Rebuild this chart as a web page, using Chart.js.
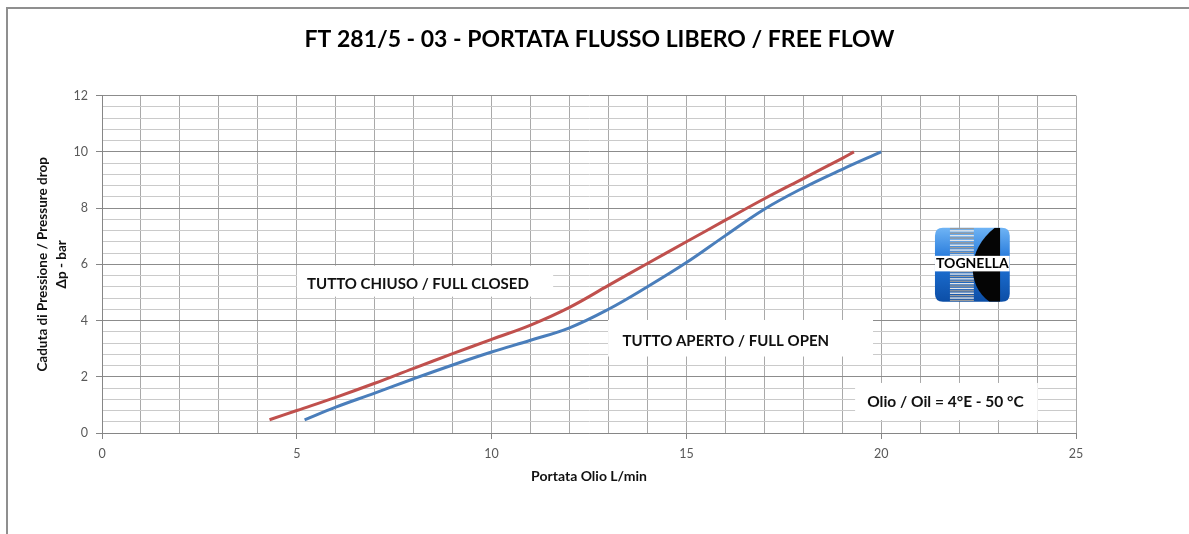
<!DOCTYPE html>
<html>
<head>
<meta charset="utf-8">
<script src="https://cdn.jsdelivr.net/npm/chart.js@4.4.0/dist/chart.umd.min.js"></script>
<style>
  html, body { margin: 0; padding: 0; background: #fff; }
  #wrap { width: 1189px; height: 534px; }
</style>
</head>
<body>
<div id="wrap"><canvas id="flowChart" width="1189" height="534"></canvas></div>
<script>
// portata (L/min) / caduta di pressione (bar)
var closedFlow = [4.3, 5, 6, 7, 8, 9, 10, 11, 12, 13, 14, 15, 16, 17, 18, 19, 19.3];
var closedDrop = [0.47, 0.8, 1.27, 1.77, 2.3, 2.82, 3.33, 3.84, 4.47, 5.25, 6.03, 6.8, 7.57, 8.33, 9.05, 9.77, 10];
var openFlow = [5.2, 6, 7, 8, 9, 10, 11, 12, 13, 14, 15, 16, 17, 18, 19, 20];
var openDrop = [0.47, 0.92, 1.42, 1.93, 2.42, 2.88, 3.3, 3.74, 4.4, 5.2, 6.06, 7.02, 7.96, 8.72, 9.38, 10];
var xTickLabels = [0, 5, 10, 15, 20, 25];
var yTickLabels = [0, 2, 4, 6, 8, 10, 12];

var FONT = "Lato, 'Open Sans', sans-serif";

function pairs(xs, ys) {
  var out = [];
  for (var i = 0; i < xs.length; i++) out.push({ x: xs[i], y: ys[i] });
  return out;
}
function isMajorY(v) { return yTickLabels.indexOf(Math.round(v * 10) / 10) >= 0; }
function isMajorX(v) { return xTickLabels.indexOf(Math.round(v * 10) / 10) >= 0; }

// riquadri di testo sul grafico (in unita' degli assi)
var notes = [
  { text: 'TUTTO CHIUSO / FULL CLOSED', x: 8.11, y: 5.3, box: [5.0, 11.58, 4.85, 5.95], size: 15 },
  { text: 'TUTTO APERTO / FULL OPEN', x: 16.01, y: 3.25, box: [12.99, 19.79, 2.72, 4.02], size: 15 },
  { text: 'Olio / Oil = 4\u00B0E - 50 \u00B0C', x: 21.65, y: 1.09, box: [19.33, 24.02, 0.46, 1.78], size: 15.5 }
];

function roundRect(c, x, y, w, h, r) {
  c.beginPath();
  c.moveTo(x + r, y);
  c.lineTo(x + w - r, y);
  c.quadraticCurveTo(x + w, y, x + w, y + r);
  c.lineTo(x + w, y + h - r);
  c.quadraticCurveTo(x + w, y + h, x + w - r, y + h);
  c.lineTo(x + r, y + h);
  c.quadraticCurveTo(x, y + h, x, y + h - r);
  c.lineTo(x, y + r);
  c.quadraticCurveTo(x, y, x + r, y);
  c.closePath();
}

var framePlugin = {
  id: 'frame',
  beforeDraw: function (chart) {
    var c = chart.ctx;
    c.save();
    c.fillStyle = '#fff';
    c.fillRect(0, 0, chart.width, chart.height);
    c.strokeStyle = '#8f8f8f';
    c.lineWidth = 2;
    c.strokeRect(7, 8, chart.width + 20, chart.height + 20);
    c.restore();
  }
};

var notesPlugin = {
  id: 'notes',
  beforeDatasetsDraw: function (chart) {
    var c = chart.ctx, sx = chart.scales.x, sy = chart.scales.y;
    c.save();
    notes.forEach(function (n) {
      var x0 = sx.getPixelForValue(n.box[0]), x1 = sx.getPixelForValue(n.box[1]);
      var y0 = sy.getPixelForValue(n.box[3]), y1 = sy.getPixelForValue(n.box[2]);
      c.fillStyle = '#fff';
      c.fillRect(x0, y0, x1 - x0, y1 - y0);
      c.fillStyle = '#111';
      c.font = 'bold ' + n.size + 'px ' + FONT;
      c.textAlign = 'center';
      c.textBaseline = 'middle';
      c.fillText(n.text, sx.getPixelForValue(n.x), sy.getPixelForValue(n.y));
    });
    c.restore();
  }
};

var logoPlugin = {
  id: 'logo',
  afterDatasetsDraw: function (chart) {
    var c = chart.ctx, sx = chart.scales.x, sy = chart.scales.y;
    var x = sx.getPixelForValue(21.38), w = sx.getPixelForValue(23.3) - x;
    var y = sy.getPixelForValue(7.3), h = sy.getPixelForValue(4.67) - y;
    c.save();
    roundRect(c, x, y, w, h, 8);
    var g = c.createLinearGradient(x, y, x, y + h);
    g.addColorStop(0, '#6fb4f5');
    g.addColorStop(0.45, '#1f74d8');
    g.addColorStop(1, '#0c4ea6');
    c.fillStyle = g;
    c.fill();
    c.clip();
    // righe grigie
    for (var i = 0; i < h; i += 2.4) {
      c.fillStyle = (Math.round(i / 2.4) % 2) ? '#e6e6e6' : '#9a9a9a';
      c.fillRect(x + w * 0.2, y + i, w * 0.32, 1.4);
    }
    // forma nera
    c.beginPath();
    c.moveTo(x + w * 0.8, y);
    c.lineTo(x + w * 0.87, y);
    c.lineTo(x + w * 0.87, y + h);
    c.lineTo(x + w * 0.73, y + h);
    c.bezierCurveTo(x + w * 0.42, y + h * 0.78, x + w * 0.42, y + h * 0.3, x + w * 0.8, y);
    c.closePath();
    c.fillStyle = '#050505';
    c.fill();
    // fascia bianca
    c.fillStyle = '#fff';
    c.fillRect(x, y + h * 0.38, w, h * 0.21);
    c.restore();
    c.save();
    c.fillStyle = '#000';
    c.font = 'bold 14px ' + FONT;
    c.textAlign = 'center';
    c.textBaseline = 'middle';
    c.fillText('TOGNELLA', x + w / 2, y + h * 0.49);
    c.restore();
  }
};

var ctx = document.getElementById('flowChart').getContext('2d');
new Chart(ctx, {
  type: 'line',
  data: {
    datasets: [{
      label: 'TUTTO CHIUSO / FULL CLOSED',
      data: pairs(closedFlow, closedDrop),
      borderColor: '#c0504d',
      borderWidth: 3,
      pointRadius: 0,
      tension: 0.4,
      fill: false
    },
    {
      label: 'TUTTO APERTO / FULL OPEN',
      data: pairs(openFlow, openDrop),
      borderColor: '#4a7ebb',
      borderWidth: 3,
      pointRadius: 0,
      tension: 0.4,
      fill: false
    }],
  },
  options: {
    responsive: false,
    animation: false,
    layout: {
      padding: { left: 10, right: 0, top: 8, bottom: 30 }
    },
    plugins: {
      legend: { display: false },
      tooltip: { enabled: false },
      title: {
        display: true,
        text: 'FT 281/5 - 03 - PORTATA FLUSSO LIBERO / FREE FLOW',
        color: '#000',
        font: { family: FONT, size: 23, weight: 'bold', lineHeight: 1.2 },
        padding: { top: 18, bottom: 42 }
      }
    },
    scales: {
      x: {
        type: 'linear',
        min: 0,
        max: 25,
        afterFit: function (s) { s.height = 71; },
        border: { color: '#868686', width: 1 },
        grid: {
          drawOnChartArea: true,
          drawTicks: true,
          tickLength: 6,
          color: '#a9a9a9',
          tickColor: function (c) { return isMajorX(c.tick.value) ? '#868686' : 'rgba(0,0,0,0)'; }
        },
        ticks: {
          stepSize: 1,
          autoSkip: false,
          maxRotation: 0,
          padding: 7,
          color: '#595959',
          font: { family: FONT, size: 12.5 },
          callback: function (v) { return isMajorX(v) ? String(v) : ''; }
        },
        title: {
          display: true,
          text: 'Portata Olio L/min',
          color: '#111',
          font: { family: FONT, size: 14, weight: 'bold', lineHeight: 1.2 },
          padding: { top: 0, bottom: 19.5 }
        }
      },
      y: {
        type: 'linear',
        min: 0,
        max: 12,
        afterFit: function (s) { s.width = 92; },
        border: { color: '#868686', width: 1 },
        grid: {
          drawTicks: true,
          tickLength: 6,
          color: function (c) { return isMajorY(c.tick.value) ? '#8c8c8c' : '#cacaca'; },
          tickColor: function (c) { return isMajorY(c.tick.value) ? '#868686' : 'rgba(0,0,0,0)'; }
        },
        ticks: {
          stepSize: 0.4,
          autoSkip: false,
          padding: 8,
          color: '#595959',
          font: { family: FONT, size: 12.5 },
          callback: function (v) { return isMajorY(v) ? String(Math.round(v)) : ''; }
        },
        title: {
          display: true,
          text: ['Caduta di Pressione / Pressure drop', '\u0394p - bar'],
          color: '#111',
          font: { family: FONT, size: 13.5, weight: 'bold', lineHeight: 1.4 },
          padding: { top: 23.5, bottom: 0 }
        }
      },
      yR: {
        type: 'linear',
        position: 'right',
        display: true,
        afterFit: function (s) { s.width = 113; },
        grid: { display: false },
        border: { display: false },
        ticks: { display: false }
      }
    }
  },
  plugins: [framePlugin, notesPlugin, logoPlugin]
});
</script>
</body>
</html>
